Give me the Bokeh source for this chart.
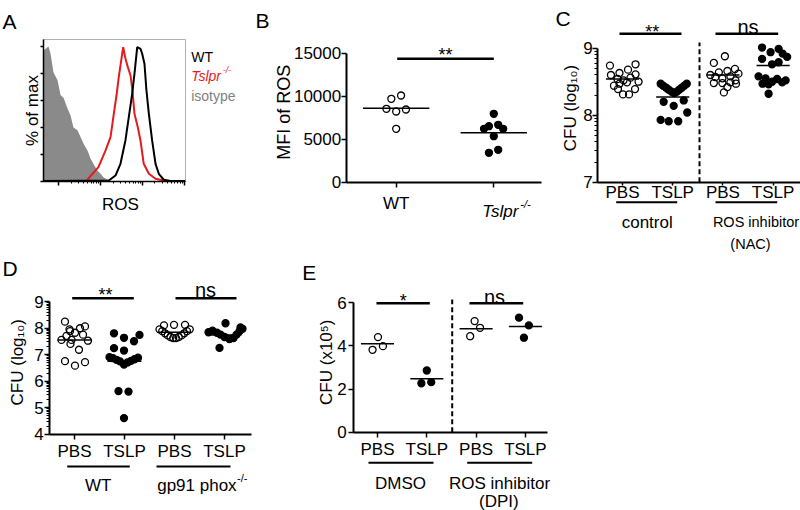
import math
from bokeh.plotting import figure
from bokeh.models import Range1d, LinearAxis, FixedTicker, CustomJSTickFormatter, Spacer
from bokeh.layouts import row, column
from bokeh.core.properties import value
from bokeh.embed import file_html
from bokeh.resources import INLINE

FONT = "Liberation Sans"

# ---------------- data ----------------
# A: ROS histograms (x: fluorescence channel in % of axis, y: % of max)
iso_x = [0, 3.5, 4.9, 7.0, 9.9, 12.0, 14.1, 16.9, 19.0, 21.1, 23.9, 26.1, 28.2, 31.0, 33.1, 35.2, 38.0, 40.1, 42.3, 45.1, 47.2]
iso_y = [97, 100, 95, 81, 75, 64, 62, 54, 49, 40, 38, 33, 28, 23, 17, 13, 8, 6, 3, 1.5, 0]
ko_x = [30.8, 38.7, 43.7, 47.2, 49.5, 51.4, 53.0, 56.1, 57.7, 59.4, 61.3, 62.5, 64.1, 66.4, 68.3, 70.6, 74.2, 78.9, 84.7]
ko_y = [1.3, 10.6, 23.0, 32.8, 50.1, 63.7, 77.3, 99.5, 91.1, 84.7, 78.5, 68.6, 50.1, 40.2, 30.4, 13.1, 5.7, 2.0, 0.7]
wt_x = [0, 46.0, 50.7, 54.2, 57.7, 60.1, 62.5, 64.3, 66.0, 68.3, 69.5, 71.1, 72.5, 74.2, 76.5, 78.9, 81.2, 84.7, 89.4, 100]
wt_y = [0.3, 0.7, 4.4, 13.1, 30.4, 47.9, 65.2, 82.2, 99.5, 98.3, 94.6, 87.2, 67.4, 50.1, 30.4, 13.1, 5.7, 1.3, 0.3, 0.3]
a_ytick = [0, 20, 40, 60, 80, 100]
a_decades = [10.6, 40.1, 69.6, 99.1]

# B: MFI of ROS
b_labels = ["WT", "Tslpr"]
mfi_wt = [9698, 10081, 8535, 8221, 8453, 6209]
mfi_wt_jit = [-0.05, 0.05, -0.10, 0.0, 0.10, 0.0]
mfi_ko = [7954, 6209, 6512, 6674, 6209, 5349, 3419, 3767]
mfi_ko_jit = [0.0, -0.10, -0.05, 0.045, 0.096, 0.0, -0.05, 0.045]
mfi_mean = [8600, 5740]
b_yticks = [0, 5000, 10000, 15000]

# C: CFU (log10), NAC
c_labels = ["PBS", "TSLP", "PBS", "TSLP"]
c_pbs_ctrl = [8.76, 8.74, 8.68, 8.63, 8.61, 8.60, 8.56, 8.54, 8.52, 8.50, 8.49, 8.47, 8.44, 8.39, 8.39, 8.31, 8.31]
c_pbs_ctrl_jit = [0.26, -0.25, 0.11, -0.06, 0.26, -0.23, 0.16, -0.10, 0.02, 0.32, 0.09, -0.06, -0.17, 0.25, -0.09, 0.01, 0.13]
c_tslp_ctrl = [8.47, 8.44, 8.41, 8.38, 8.35, 8.33, 8.35, 8.38, 8.41, 8.44, 8.47, 8.20, 8.14, 8.22, 8.04, 7.93, 7.91, 7.91]
c_tslp_ctrl_jit = [-0.24, -0.19, -0.13, -0.08, -0.02, 0.03, 0.08, 0.13, 0.18, 0.23, 0.28, -0.18, 0.02, 0.22, 0.29, -0.24, -0.08, 0.11]
c_pbs_nac = [8.88, 8.78, 8.69, 8.66, 8.64, 8.62, 8.60, 8.58, 8.57, 8.55, 8.52, 8.49, 8.48, 8.48, 8.47, 8.42, 8.34]
c_pbs_nac_jit = [0.04, -0.18, 0.24, 0.09, -0.08, 0.31, -0.25, 0.15, -0.15, -0.01, 0.25, 0.15, -0.18, -0.01, 0.26, 0.09, 0.02]
c_tslp_nac = [9.01, 8.99, 8.94, 8.92, 8.87, 8.84, 8.79, 8.76, 8.58, 8.55, 8.54, 8.52, 8.50, 8.49, 8.47, 8.46, 8.32]
c_tslp_nac_jit = [-0.22, 0.11, -0.05, 0.19, 0.28, -0.22, 0.11, -0.02, -0.29, -0.15, 0.08, 0.25, -0.02, 0.18, -0.21, -0.09, -0.09]
c_means = [8.54, 8.27, 8.60, 8.74]
c_yticks = [7, 8, 9]

# D: CFU (log10), WT vs gp91 phox-/-
d_labels = ["PBS", "TSLP", "PBS", "TSLP"]
d_pbs_wt = [8.24, 8.06, 7.99, 7.95, 7.88, 7.82, 7.75, 7.70, 7.55, 7.55, 7.52, 7.40, 7.18, 6.75, 6.71, 6.58]
d_pbs_wt_jit = [-0.19, 0.21, 0.11, -0.10, -0.09, 0.01, 0.17, -0.16, -0.26, -0.06, 0.27, -0.08, 0.09, -0.19, 0.21, 0.01]
d_tslp_wt = [7.80, 7.74, 7.63, 7.50, 7.24, 7.15, 6.90, 6.86, 6.80, 6.74, 6.62, 6.70, 6.76, 6.82, 6.88, 5.62, 5.60, 4.60]
d_tslp_wt_jit = [-0.21, 0.30, -0.01, 0.19, -0.21, -0.01, -0.30, -0.23, -0.16, -0.09, -0.01, 0.06, 0.13, 0.20, 0.27, -0.12, 0.08, -0.01]
d_pbs_gp = [8.10, 8.12, 8.12, 7.95, 7.88, 7.80, 7.72, 7.66, 7.62, 7.62, 7.66, 7.72, 7.80, 7.88, 7.95]
d_pbs_gp_jit = [-0.21, -0.01, 0.21, -0.30, -0.245, -0.19, -0.135, -0.08, -0.025, 0.03, 0.085, 0.14, 0.195, 0.25, 0.305]
d_tslp_gp = [8.18, 7.84, 7.90, 7.82, 7.75, 7.66, 7.58, 7.62, 7.75, 7.88, 7.97, 8.02, 7.25]
d_tslp_gp_jit = [0.02, -0.32, -0.24, -0.15, -0.08, 0.0, 0.10, 0.18, 0.24, 0.30, 0.36, 0.32, -0.10]
d_means = [7.55, 6.75, 7.84, 7.74]
d_yticks = [4, 5, 6, 7, 8, 9]

# E: CFU (x10^5), DPI
e_labels = ["PBS", "TSLP", "PBS", "TSLP"]
e_pbs_dmso = [4.41, 3.82, 3.99]
e_pbs_dmso_jit = [0.01, -0.10, 0.11]
e_tslp_dmso = [2.86, 2.27, 2.32]
e_tslp_dmso_jit = [0.0, -0.11, 0.09]
e_pbs_dpi = [5.15, 4.45, 4.84]
e_pbs_dpi_jit = [-0.03, -0.12, 0.08]
e_tslp_dpi = [5.31, 4.95, 4.38]
e_tslp_dpi_jit = [-0.13, 0.07, -0.03]
e_means = [4.10, 2.48, 4.80, 4.90]
e_yticks = [0, 2, 4, 6]


# ---------------- helpers ----------------
def panel(L, R, T, B, x0px, sx, yv, ypx, ky):
    fx = lambda px: (px - x0px) / sx
    fy = lambda py: yv + (ypx - py) / ky
    p = figure(width=R - L, height=B - T,
               x_range=Range1d(fx(L), fx(R)), y_range=Range1d(fy(B), fy(T)),
               output_backend="svg", toolbar_location=None,
               x_axis_location=None, y_axis_location=None,
               min_border=0, outline_line_color=None,
               background_fill_color="white", border_fill_color="white")
    for g in p.grid:
        g.visible = False
    return p, fx, fy


def txt(p, x, y, s, size, color="black", align="left", baseline="alphabetic",
        angle=0.0, style="normal"):
    p.text(x=[x], y=[y], text=[s], text_font=value(FONT),
           text_font_size=value(f"{size}px"), text_color=color,
           text_align=align, text_baseline=baseline, angle=angle,
           text_font_style=style)


def style_axis(ax, tick_out=5, minor_out=3, standoff=2, hide_labels=False):
    ax.axis_line_width = 2
    ax.axis_line_color = "black"
    ax.major_tick_line_width = 1.5
    ax.major_tick_line_color = "black"
    ax.minor_tick_line_width = 1
    ax.minor_tick_line_color = "black"
    ax.major_tick_in = 0
    ax.major_tick_out = tick_out
    ax.minor_tick_in = 0
    ax.minor_tick_out = minor_out
    ax.major_label_standoff = standoff
    ax.major_label_text_font = FONT
    ax.major_label_text_font_size = "17px"
    ax.major_label_text_color = "black"
    if hide_labels:
        ax.formatter = CustomJSTickFormatter(code="return ''")


def log_minor(lo, hi):
    return [n + math.log10(k) for n in range(lo, hi) for k in range(2, 10)]


def hbar(p, x0, x1, y, w=2.5):
    p.segment(x0=[x0], x1=[x1], y0=[y], y1=[y], line_color="black", line_width=w)


def dots(p, cat, vals, jit, filled):
    p.scatter(x=[cat + j for j in jit], y=vals, marker="circle", size=7,
              line_color="black", line_width=1.3,
              fill_color="black" if filled else None)


def means(p, mvals, hw, w=1.5):
    p.segment(x0=[i - hw for i in range(len(mvals))], x1=[i + hw for i in range(len(mvals))],
              y0=mvals, y1=mvals, line_color="black", line_width=w)


# ---------------- Panel A ----------------
pA, fx, fy = panel(0, 250, 0, 251, 43, 1.42, 0, 181, 1.35)
pA.varea(x=iso_x, y1=[0] * len(iso_x), y2=iso_y, fill_color="#8a8a8a")
pA.line(x=ko_x, y=ko_y, line_color="#e41a1c", line_width=2)
pA.line(x=wt_x, y=wt_y, line_color="black", line_width=2)
top_a = fy(39)
pA.line(x=[0, 100, 100], y=[top_a, top_a, 0], line_color="#b0b0b0", line_width=1)
ax = LinearAxis(fixed_location=0, bounds=(0, top_a), ticker=FixedTicker(ticks=a_ytick))
style_axis(ax, tick_out=3, minor_out=0, hide_labels=True)
ax.axis_line_width = 1.5
pA.add_layout(ax, "left")
a_minor = [d + 29.5 * math.log10(k) for d in a_decades for k in range(2, 10) if d + 29.5 * math.log10(k) < 100]
ax = LinearAxis(fixed_location=0, bounds=(0, 100), ticker=FixedTicker(ticks=a_decades, minor_ticks=a_minor))
style_axis(ax, tick_out=4, minor_out=2, hide_labels=True)
ax.axis_line_width = 1.5
pA.add_layout(ax, "below")
txt(pA, fx(2), fy(20.7), "A", 21)
txt(pA, fx(31.7), fy(110), "% of max", 17, align="center", angle=math.pi / 2)
txt(pA, fx(120), fy(204.3), "ROS", 17, align="center")
txt(pA, fx(190.7), fy(56.7), "WT", 14)
txt(pA, fx(190.7), fy(75), "Tslpr", 14, color="#e41a1c", style="italic")
txt(pA, fx(222.3), fy(69), "-/-", 9, color="#e41a1c", style="italic")
txt(pA, fx(190.7), fy(95.7), "isotype", 14, color="#808080")

# ---------------- Panel B ----------------
pB, fx, fy = panel(250, 551, 0, 251, 395.7, 97.6, 0, 181.7, 0.0086)
dots(pB, 0, mfi_wt, mfi_wt_jit, False)
dots(pB, 1, mfi_ko, mfi_ko_jit, True)
means(pB, mfi_mean, 0.34)
ax = LinearAxis(fixed_location=fx(345.7), bounds=(0, 15000), ticker=FixedTicker(ticks=b_yticks))
style_axis(ax, tick_out=5, standoff=0)
pB.add_layout(ax, "left")
ax = LinearAxis(fixed_location=0, bounds=(fx(345.7), fx(541)), ticker=FixedTicker(ticks=[0, 1]))
style_axis(ax, tick_out=5, standoff=7)
ax.major_label_overrides = {0: b_labels[0], 1: ""}
pB.add_layout(ax, "below")
hbar(pB, fx(396.7), fx(493.3), fy(58.3))
txt(pB, fx(445), fy(54), "**", 18, align="center")
txt(pB, fx(255), fy(20), "B", 21)
txt(pB, fx(283.3), fy(111.7), "MFI of ROS", 18, align="center", angle=math.pi / 2)
txt(pB, fx(481.7), fy(210.7), b_labels[1], 17, style="italic")
txt(pB, fx(519.8), fy(203.5), "-/-", 11, style="italic")

# ---------------- Panel C ----------------
pC, fx, fy = panel(551, 800, 0, 257, 622, 50.2, 7, 181.7, 67)
pC.segment(x0=[fx(699)], x1=[fx(699)], y0=[7], y1=[fy(42)], line_color="black",
           line_width=2, line_dash="5 3")
dots(pC, 0, c_pbs_ctrl, c_pbs_ctrl_jit, False)
dots(pC, 1, c_tslp_ctrl, c_tslp_ctrl_jit, True)
dots(pC, 2, c_pbs_nac, c_pbs_nac_jit, False)
dots(pC, 3, c_tslp_nac, c_tslp_nac_jit, True)
means(pC, c_means, 0.33)
ax = LinearAxis(fixed_location=fx(597.3), bounds=(7, 9),
                ticker=FixedTicker(ticks=c_yticks, minor_ticks=log_minor(7, 9)))
style_axis(ax, tick_out=5, minor_out=3, standoff=0)
pC.add_layout(ax, "left")
ax = LinearAxis(fixed_location=7, bounds=(fx(597.3), fx(800)), ticker=FixedTicker(ticks=[0, 1, 2, 3]))
style_axis(ax, tick_out=3, standoff=-2)
ax.major_label_overrides = {i: s for i, s in enumerate(c_labels)}
pC.add_layout(ax, "below")
hbar(pC, fx(619), fx(681), fy(33.3))
hbar(pC, fx(715), fx(777.7), fy(33.3))
txt(pC, fx(651.7), fy(31.5), "**", 18, align="center")
txt(pC, fx(747.5), fy(26.7), "ns", 20, align="center")
hbar(pC, fx(615.7), fx(676.7), fy(201.7), 2)
hbar(pC, fx(715), fx(776.7), fy(201.7), 2)
txt(pC, fx(646.7), fy(221.7), "control", 17, align="center")
txt(pC, fx(755.5), fy(221.7), "ROS inhibitor", 14.5, align="center")
txt(pC, fx(750), fy(243), "(NAC)", 14.5, align="center")
txt(pC, fx(555), fy(18.3), "C", 21)
txt(pC, fx(570), fy(107.5), "CFU (log\u2081\u2080)", 17, align="center", angle=math.pi / 2)

# ---------------- Panel D ----------------
pD, fx, fy = panel(0, 300, 251, 510, 74, 50, 4, 433.5, 26.5)
dots(pD, 0, d_pbs_wt, d_pbs_wt_jit, False)
dots(pD, 1, d_tslp_wt, d_tslp_wt_jit, True)
dots(pD, 2, d_pbs_gp, d_pbs_gp_jit, False)
dots(pD, 3, d_tslp_gp, d_tslp_gp_jit, True)
means(pD, d_means, 0.34)
ax = LinearAxis(fixed_location=fx(49.3), bounds=(4, 9),
                ticker=FixedTicker(ticks=d_yticks, minor_ticks=log_minor(4, 9)))
style_axis(ax, tick_out=5, minor_out=3, standoff=1)
pD.add_layout(ax, "left")
ax = LinearAxis(fixed_location=4, bounds=(fx(49.3), fx(250.7)), ticker=FixedTicker(ticks=[0, 1, 2, 3]))
style_axis(ax, tick_out=5, standoff=3)
ax.major_label_overrides = {i: s for i, s in enumerate(d_labels)}
pD.add_layout(ax, "below")
hbar(pD, fx(71.7), fx(133.3), fy(297.7))
hbar(pD, fx(175), fx(236), fy(297.7))
txt(pD, fx(105), fy(294), "**", 18, align="center")
txt(pD, fx(205), fy(289.3), "ns", 20, align="center")
hbar(pD, fx(66.7), fx(129.3), fy(466), 2)
hbar(pD, fx(156), fx(230), fy(466), 2)
txt(pD, fx(97.7), fy(485), "WT", 17, align="center")
txt(pD, fx(156.7), fy(485), "gp91 phox", 17)
txt(pD, fx(236.5), fy(477), "-/-", 11)
txt(pD, fx(2), fy(268.3), "D", 21)
txt(pD, fx(17), fy(361.7), "CFU (log\u2081\u2080)", 17, align="center", angle=math.pi / 2)

# ---------------- Panel E ----------------
pE, fx, fy = panel(300, 551, 251, 510, 377, 49.3, 0, 431.7, 21.57)
pE.segment(x0=[fx(451.7)], x1=[fx(451.7)], y0=[0], y1=[fy(299)], line_color="black",
           line_width=2, line_dash="5 3")
dots(pE, 0, e_pbs_dmso, e_pbs_dmso_jit, False)
dots(pE, 1, e_tslp_dmso, e_tslp_dmso_jit, True)
dots(pE, 2, e_pbs_dpi, e_pbs_dpi_jit, False)
dots(pE, 3, e_tslp_dpi, e_tslp_dpi_jit, True)
means(pE, e_means, 0.335)
ax = LinearAxis(fixed_location=fx(353.3), bounds=(0, 6), ticker=FixedTicker(ticks=e_yticks))
style_axis(ax, tick_out=5, standoff=2)
pE.add_layout(ax, "left")
ax = LinearAxis(fixed_location=0, bounds=(fx(353.3), fx(546.7)), ticker=FixedTicker(ticks=[0, 1, 2, 3]))
style_axis(ax, tick_out=5, standoff=3)
ax.major_label_overrides = {i: s for i, s in enumerate(e_labels)}
pE.add_layout(ax, "below")
hbar(pE, fx(376), fx(429.3), fy(302.7))
hbar(pE, fx(469), fx(522.7), fy(302.7))
txt(pE, fx(402.7), fy(300.5), "*", 18, align="center")
txt(pE, fx(494), fy(296.7), "ns", 20, align="center")
hbar(pE, fx(368), fx(433), fy(462.3), 2)
hbar(pE, fx(466.7), fx(531.7), fy(462.3), 2)
txt(pE, fx(400), fy(483.3), "DMSO", 17, align="center")
txt(pE, fx(499), fy(483.3), "ROS inhibitor", 17, align="center")
txt(pE, fx(498.3), fy(501), "(DPI)", 17, align="center")
txt(pE, fx(301.7), fy(271.7), "E", 21)
txt(pE, fx(326), fy(361.7), "CFU (x10\u2075)", 17, align="center", angle=math.pi / 2)

# ---------------- layout ----------------
left = column(row(pA, pB), row(pD, pE))
right = column(pC, Spacer(width=249, height=253))
layout = row(left, right)

open("out.html", "w").write(file_html(layout, INLINE))
